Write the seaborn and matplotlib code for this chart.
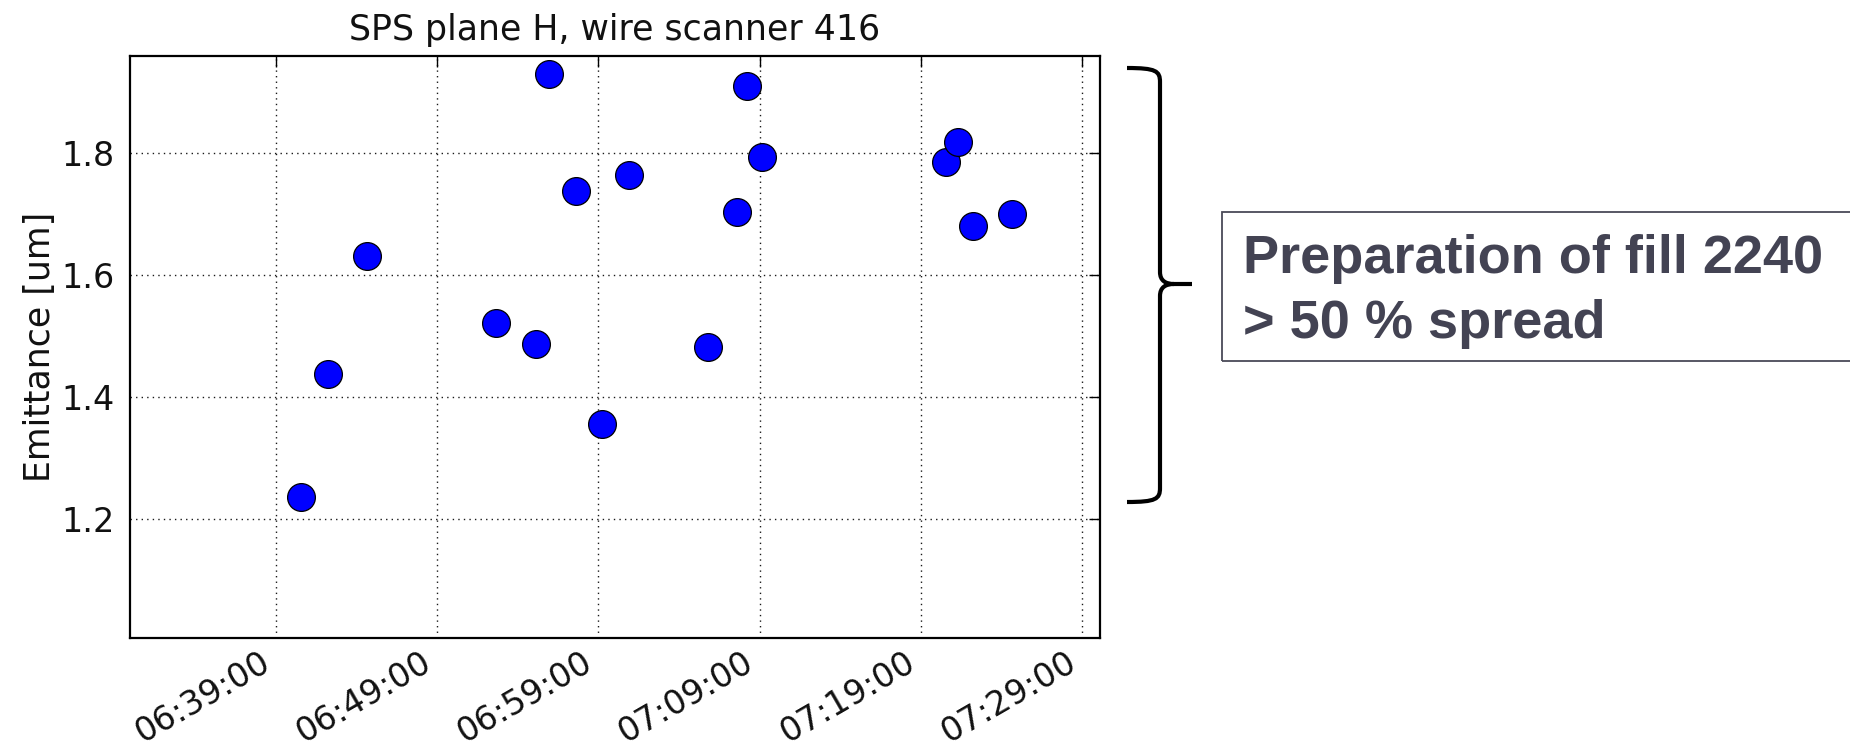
import matplotlib
matplotlib.use("Agg")
import matplotlib.pyplot as plt
from matplotlib.path import Path
from matplotlib.patches import PathPatch, Rectangle
import seaborn as sns
import pandas as pd

# ---- data ----
times = ["06:40:32", "06:42:13", "06:44:38", "06:52:40", "06:55:09", "06:55:57",
         "06:57:38", "06:59:13", "07:00:54", "07:05:48", "07:07:34", "07:08:13",
         "07:09:09", "07:20:32", "07:21:20", "07:22:13", "07:24:38"]
emittance = [1.237, 1.439, 1.631, 1.522, 1.487, 1.929,
             1.738, 1.357, 1.765, 1.483, 1.703, 1.910,
             1.794, 1.785, 1.819, 1.680, 1.701]
xtick_labels = ["06:39:00", "06:49:00", "06:59:00", "07:09:00", "07:19:00", "07:29:00"]
ytick_values = [1.2, 1.4, 1.6, 1.8]
title = "SPS plane H, wire scanner 416"
ylabel = "Emittance [um]"
note_lines = ["Preparation of fill 2240", "> 50 % spread"]

day = "2011-10-25 "
df = pd.DataFrame({"time": pd.to_datetime([day + t for t in times]),
                   "emittance": emittance})

sns.set_style("white")
plt.rcParams["font.family"] = ["DejaVu Sans"]

W, H = 1850, 746
fig = plt.figure(figsize=(W / 100, H / 100), dpi=100)
ax = fig.add_axes([129.8 / W, 1 - 638.4 / H, (1099.8 - 129.8) / W, (638.4 - 55.5) / H])

sns.scatterplot(data=df, x="time", y="emittance", ax=ax, s=400,
                color="#0000ff", edgecolor="black", linewidth=0.9, zorder=3)

ax.set_xlim(pd.Timestamp(day + "06:29:56"), pd.Timestamp(day + "07:30:06"))
ax.set_ylim(1.005, 1.96)
xt = pd.to_datetime([day + t for t in xtick_labels])
ax.set_xticks(xt)
ax.set_xticklabels(xtick_labels, rotation=30, ha="right")
ax.set_yticks(ytick_values)
ax.set_yticklabels([f"{v:.1f}" for v in ytick_values])

ax.grid(True, linestyle=(0, (1, 3)), color="black", linewidth=1.0, alpha=0.9)
ax.set_axisbelow(True)
ax.tick_params(axis="both", direction="in", length=8, width=1, labelsize=24,
               top=True, right=True, color="black", labelcolor="#111111")
ax.tick_params(axis="y", pad=11)
ax.tick_params(axis="x", pad=5)
for sp in ax.spines.values():
    sp.set_visible(True)
    sp.set_color("black")
    sp.set_linewidth(1.6)

ax.set_xlabel("")
ax.set_ylabel(ylabel, fontsize=25, labelpad=3, color="#111111")
ax.set_title(title, fontsize=25, pad=11, color="#111111")

# ---- curly brace (figure pixel coords, y from top) ----
def fp(x, y):
    return (x / W, 1 - y / H)

xl, xv, xt_tip = 1127, 1160, 1192
yt, ym, yb = 68, 284, 502
verts = [fp(xl, yt), fp(xv - 4, yt), fp(xv, yt + 3), fp(xv, yt + 14),
         fp(xv, ym - 12),
         fp(xv, ym - 3), fp(xv + 6, ym), fp(xv + 14, ym),
         fp(xt_tip, ym),
         fp(xv + 14, ym), fp(xv + 6, ym), fp(xv, ym + 3), fp(xv, ym + 12),
         fp(xv, yb - 14),
         fp(xv, yb - 3), fp(xv - 4, yb), fp(xl, yb)]
codes = [Path.MOVETO, Path.CURVE4, Path.CURVE4, Path.CURVE4,
         Path.LINETO,
         Path.CURVE4, Path.CURVE4, Path.CURVE4,
         Path.LINETO,
         Path.MOVETO, Path.CURVE4, Path.CURVE4, Path.CURVE4,
         Path.LINETO,
         Path.CURVE4, Path.CURVE4, Path.CURVE4]
brace = PathPatch(Path(verts, codes), transform=fig.transFigure, fill=False,
                  edgecolor="black", linewidth=3.0, capstyle="butt", joinstyle="round")
fig.patches.append(brace)

# ---- note box ----
box = Rectangle(fp(1222, 361), (1852 - 1222) / W, (361 - 212) / H,
                transform=fig.transFigure, fill=False, edgecolor="#4a4a58", linewidth=1.3)
fig.patches.append(box)
note_color = "#434353"
fig.text(1243 / W, 1 - 273 / H, note_lines[0], fontsize=39, fontweight="bold",
         family=["Liberation Sans", "DejaVu Sans"], color=note_color, va="baseline", ha="left")
fig.text(1243 / W, 1 - 338 / H, note_lines[1], fontsize=39, fontweight="bold",
         family=["Liberation Sans", "DejaVu Sans"], color=note_color, va="baseline", ha="left")

fig.savefig("out.png", dpi=100)
